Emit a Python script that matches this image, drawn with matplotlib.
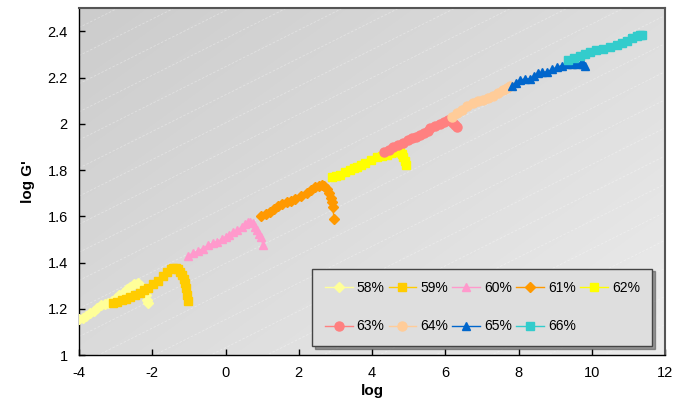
import numpy as np
import matplotlib
matplotlib.use("Agg")
import matplotlib.pyplot as plt
from matplotlib.lines import Line2D

plt.rcParams['font.family'] = ['Liberation Sans', 'DejaVu Sans']

labels = ["58%", "59%", "60%", "61%", "62%", "63%", "64%", "65%", "66%"]
colors = ["#FFFF99", "#FFCC00", "#FF99CC", "#FF9900", "#FFFF00",
          "#FF8080", "#FFCC99", "#0066CC", "#33CCCC"]
markers = ["D", "s", "^", "D", "s", "o", "o", "^", "s"]
msizes = [4.8, 6, 6.3, 4.8, 6, 6.5, 6.5, 6.3, 6]

x58 = [-4.0, -3.9, -3.8, -3.7, -3.6, -3.5, -3.4, -3.3, -3.2, -3.1, -3.0, -2.9, -2.8,
       -2.7, -2.6, -2.5, -2.4, -2.3, -2.22, -2.17, -2.14, -2.12]
y58 = [1.155, 1.16, 1.17, 1.18, 1.19, 1.205, 1.215, 1.22, 1.225, 1.235, 1.245, 1.26, 1.27,
       1.285, 1.295, 1.305, 1.31, 1.30, 1.28, 1.26, 1.24, 1.225]

x59 = [-3.07, -2.95, -2.83, -2.72, -2.6, -2.47, -2.33, -2.22, -2.11, -1.98, -1.84, -1.72,
       -1.6, -1.5, -1.43, -1.36, -1.3, -1.24, -1.19, -1.14, -1.1, -1.08, -1.05, -1.02]
y59 = [1.225, 1.23, 1.237, 1.243, 1.25, 1.26, 1.27, 1.28, 1.29, 1.305, 1.32, 1.34,
       1.36, 1.37, 1.375, 1.377, 1.37, 1.36, 1.345, 1.33, 1.31, 1.29, 1.26, 1.233]

x60 = [-1.02, -0.88, -0.75, -0.62, -0.48, -0.35, -0.23, -0.1, 0.0, 0.1, 0.2, 0.32,
       0.45, 0.53, 0.6, 0.68, 0.75, 0.81, 0.86, 0.92, 0.97, 1.02]
y60 = [1.43, 1.44, 1.45, 1.46, 1.475, 1.483, 1.49, 1.5, 1.51, 1.52, 1.53, 1.54,
       1.555, 1.565, 1.575, 1.577, 1.57, 1.555, 1.54, 1.525, 1.51, 1.475]

x61 = [0.97, 1.1, 1.22, 1.33, 1.43, 1.55, 1.68, 1.8, 1.9, 2.05, 2.22, 2.33, 2.44,
       2.54, 2.63, 2.7, 2.77, 2.83, 2.88, 2.91, 2.93, 2.96]
y61 = [1.6, 1.61, 1.62, 1.632, 1.645, 1.652, 1.66, 1.668, 1.675, 1.688, 1.70, 1.712, 1.725,
       1.732, 1.735, 1.73, 1.72, 1.70, 1.68, 1.66, 1.64, 1.59]

x62 = [2.9, 3.02, 3.13, 3.27, 3.4, 3.5, 3.59, 3.7, 3.8, 3.97, 4.14, 4.27, 4.4,
       4.52, 4.63, 4.7, 4.76, 4.81, 4.85, 4.89, 4.93]
y62 = [1.77, 1.775, 1.78, 1.79, 1.80, 1.808, 1.815, 1.823, 1.83, 1.843, 1.855, 1.86, 1.865,
       1.872, 1.878, 1.88, 1.88, 1.87, 1.855, 1.84, 1.82]

x63 = [4.33, 4.45, 4.57, 4.71, 4.85, 4.97, 5.09, 5.2, 5.31, 5.42, 5.53, 5.58, 5.72,
       5.86, 5.97, 6.08, 6.15, 6.2, 6.26, 6.31]
y63 = [1.877, 1.888, 1.9, 1.908, 1.915, 1.928, 1.94, 1.945, 1.95, 1.96, 1.97, 1.98, 1.99,
       2.0, 2.008, 2.015, 2.013, 2.005, 1.995, 1.985]

x64 = [6.18, 6.32, 6.46, 6.6, 6.76, 6.9, 7.03, 7.16, 7.3, 7.44, 7.58, 7.68, 7.77]
y64 = [2.03, 2.045, 2.06, 2.075, 2.09, 2.098, 2.105, 2.112, 2.12, 2.132, 2.145, 2.155, 2.165]

x65 = [7.82, 7.93, 8.04, 8.18, 8.31, 8.42, 8.53, 8.65, 8.77, 8.91, 9.05, 9.18, 9.32,
       9.46, 9.6, 9.7, 9.77, 9.82]
y65 = [2.165, 2.178, 2.19, 2.193, 2.195, 2.208, 2.22, 2.222, 2.225, 2.235, 2.245, 2.252, 2.26,
       2.26, 2.26, 2.262, 2.26, 2.25]

x66 = [9.35, 9.52, 9.68, 9.82, 9.95, 10.12, 10.3, 10.5, 10.69, 10.82, 10.96, 11.1,
       11.24, 11.32, 11.37]
y66 = [2.275, 2.285, 2.295, 2.303, 2.31, 2.318, 2.325, 2.333, 2.34, 2.35, 2.36, 2.37,
       2.38, 2.385, 2.385]

xs = [x58, x59, x60, x61, x62, x63, x64, x65, x66]
ys = [y58, y59, y60, y61, y62, y63, y64, y65, y66]

x_ticks = [-4, -2, 0, 2, 4, 6, 8, 10, 12]
y_ticks = [1, 1.2, 1.4, 1.6, 1.8, 2, 2.2, 2.4]
y_tick_labels = ["1", "1.2", "1.4", "1.6", "1.8", "2", "2.2", "2.4"]

fig = plt.figure(figsize=(6.88, 4.09), dpi=100)
ax = fig.add_axes([0.1148, 0.132, 0.852, 0.848])

# Plot-area background: diagonal grey gradient with faint white hatching
gx, gy = np.meshgrid(np.linspace(0, 1, 300), np.linspace(1, 0, 200))
shade = 0.80 + 0.125 * (0.55 * gx + 0.45 * (1 - gy))
ax.imshow(np.dstack([shade, shade, shade]), extent=[0, 1, 0, 1],
          transform=ax.transAxes, aspect='auto', zorder=0, interpolation='bilinear')
slope = 0.5 * (0.852 * 688) / (0.848 * 409)
for off in np.arange(-1.0, 1.05, 0.081):
    ax.plot([0, 1], [off, off + slope], transform=ax.transAxes, color='white',
            lw=0.6, ls=(0, (3, 2)), alpha=0.35, zorder=0.5)

for x, y, c, m, ms, lab in zip(xs, ys, colors, markers, msizes, labels):
    ax.plot(x, y, color=c, marker=m, ms=ms, mec=c, mfc=c, lw=1.0, label=lab, zorder=3)

ax.set_xlim(-4, 12)
ax.set_ylim(1, 2.5)
ax.set_xticks(x_ticks)
ax.set_xticklabels([str(t) for t in x_ticks])
ax.set_yticks(y_ticks)
ax.set_yticklabels(y_tick_labels)
ax.tick_params(direction='in', length=4, width=1, labelsize=10.5, pad=8)

for side in ('left', 'bottom'):
    ax.spines[side].set_color('black')
    ax.spines[side].set_linewidth(1.0)
for side in ('top', 'right'):
    ax.spines[side].set_color('#555555')
    ax.spines[side].set_linewidth(1.5)

ax.set_xlabel("log", fontsize=11, fontweight='bold', labelpad=3)
ax.set_ylabel("log G'", fontsize=11, fontweight='bold', labelpad=9)

# Legend filled row by row: 5 entries on the first row, 4 on the second
order = [0, 5, 1, 6, 2, 7, 3, 8, 4]
handles = [Line2D([0], [0], color=colors[i], marker=markers[i], ms=msizes[i],
                  mec=colors[i], mfc=colors[i], lw=1.0) for i in order]
leg = ax.legend(handles, [labels[i] for i in order], loc='lower left',
                bbox_to_anchor=(0.398, 0.026, 0.58, 0.216), mode='expand',
                ncol=5, fontsize=10, frameon=True, fancybox=False, shadow=True,
                handlelength=2.0, handletextpad=0.3, labelspacing=1.75,
                borderpad=0.9, borderaxespad=0, columnspacing=1.0)
frame = leg.get_frame()
frame.set_facecolor('#DEDEDE')
frame.set_edgecolor('#444444')
frame.set_linewidth(1.0)
frame.set_alpha(1)

fig.savefig("out.png", dpi=100)
